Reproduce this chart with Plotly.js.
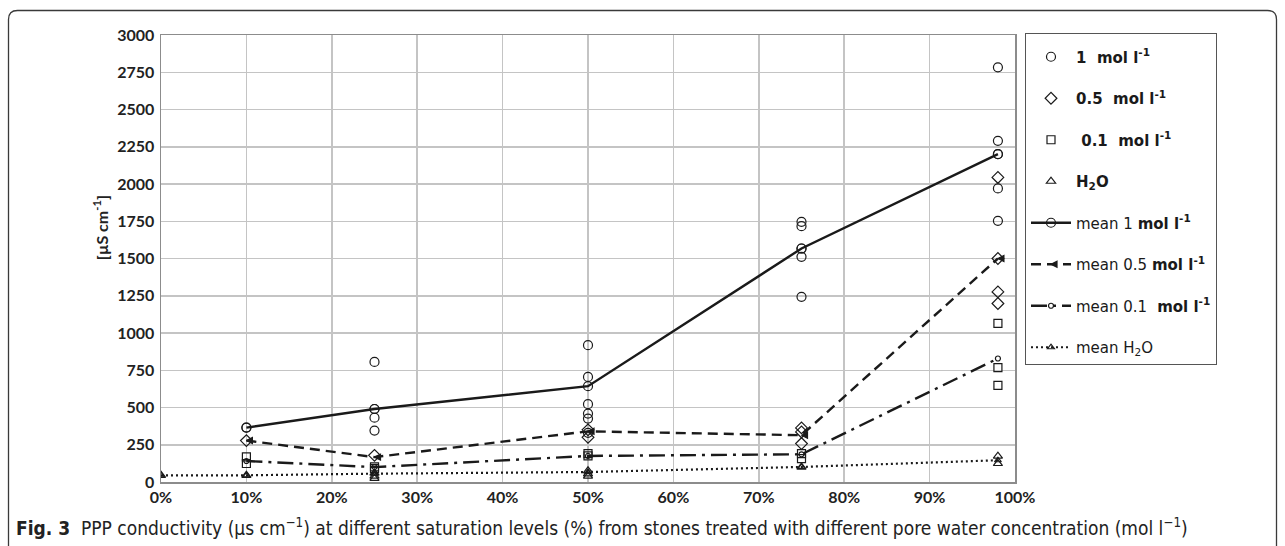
<!DOCTYPE html>
<html>
<head>
<meta charset="utf-8">
<script src="https://cdn.plot.ly/plotly-3.0.1.min.js"></script>
<style>
  html, body { margin: 0; padding: 0; background: #fff; }
  #chart { width: 1285px; height: 546px; }
</style>
</head>
<body>
<div id="chart"></div>
<script>
// ---- data (saturation level as fraction, conductivity in µS/cm) ----
const one_x   = [0.10, 0.25, 0.25, 0.25, 0.25, 0.50, 0.50, 0.50, 0.50, 0.50, 0.50, 0.75, 0.75, 0.75, 0.75, 0.75, 0.98, 0.98, 0.98, 0.98, 0.98];
const one_y   = [365, 806, 490, 432, 345, 918, 705, 522, 459, 426, 330, 1746, 1717, 1567, 1511, 1243, 2783, 2290, 2201, 1970, 1753];

const half_x  = [0.10, 0.25, 0.50, 0.50, 0.75, 0.75, 0.75, 0.98, 0.98, 0.98, 0.98];
const half_y  = [278, 179, 350, 300, 363, 336, 258, 2044, 1500, 1276, 1198];

const tenth_x = [0.10, 0.10, 0.25, 0.25, 0.50, 0.50, 0.75, 0.75, 0.98, 0.98, 0.98];
const tenth_y = [168, 124, 101, 90, 190, 175, 191, 157, 1064, 768, 649];

const h2o_x   = [0, 0.10, 0.25, 0.25, 0.25, 0.50, 0.50, 0.50, 0.75, 0.98, 0.98];
const h2o_y   = [45, 45, 25, 40, 60, 40, 55, 75, 100, 124, 173];

const mean_x      = [0.10, 0.25, 0.50, 0.75, 0.98];
const mean1_y     = [365, 490, 643, 1567, 2200];
const mean05_y    = [278, 167, 340, 314, 1500];
const mean01_y    = [141, 100, 175, 186, 829];
const meanH2O_x   = [0, 0.10, 0.25, 0.50, 0.75, 0.98];
const meanH2O_y   = [45, 45, 56, 67, 101, 146];

const xTicks = [0, 0.1, 0.2, 0.3, 0.4, 0.5, 0.6, 0.7, 0.8, 0.9, 1.0];
const yTicks = [0, 250, 500, 750, 1000, 1250, 1500, 1750, 2000, 2250, 2500, 2750, 3000];

const names = {
  one:   '<b>1  mol l<sup>-1</sup></b>',
  half:  '<b>0.5  mol l<sup>-1</sup></b>',
  tenth: '<b> 0.1  mol l<sup>-1</sup></b>',
  h2o:   '<b>H<sub>2</sub>O</b>',
  m1:    'mean 1 <b>mol l<sup>-1</sup></b>',
  m05:   'mean 0.5 <b>mol l<sup>-1</sup></b>',
  m01:   'mean 0.1 <b> mol l<sup>-1</sup></b>',
  mh:    'mean H<sub>2</sub>O'
};

// ---- layout geometry helpers ----
const W = 1285, H = 546;
const L = 161, R = 1015, T = 35, B = 481.7;
const px = v => (v - L) / (R - L);
const py = v => (B - v) / (B - T);

const ink = '#1a1a1a';
const mk = (symbol, size) => ({ symbol: symbol, size: size, color: ink, line: { color: ink, width: 1.2 } });

const traces = [
  { x: one_x, y: one_y, name: names.one, type: 'scatter', mode: 'markers', marker: mk('circle-open', 9), legendgroup: 'a' },
  { x: half_x, y: half_y, name: names.half, type: 'scatter', mode: 'markers', marker: mk('diamond-open', 9), legendgroup: 'b' },
  { x: tenth_x, y: tenth_y, name: names.tenth, type: 'scatter', mode: 'markers', marker: mk('square-open', 8), legendgroup: 'c' },
  { x: h2o_x, y: h2o_y, name: names.h2o, type: 'scatter', mode: 'markers', marker: mk('triangle-up-open', 8), legendgroup: 'd' },
  { x: mean_x, y: mean1_y, name: names.m1, type: 'scatter', mode: 'lines+markers',
    line: { color: ink, width: 2.4 }, marker: mk('circle-open', 9), legendgroup: 'e' },
  { x: mean_x, y: mean05_y, name: names.m05, type: 'scatter', mode: 'lines+markers',
    line: { color: ink, width: 2.4, dash: '10px,6px' }, marker: mk('arrow-left', 6), legendgroup: 'f' },
  { x: mean_x, y: mean01_y, name: names.m01, type: 'scatter', mode: 'lines+markers',
    line: { color: ink, width: 2.4, dash: '16px,6px,3px,6px' }, marker: mk('circle-open', 5), legendgroup: 'g' },
  { x: meanH2O_x, y: meanH2O_y, name: names.mh, type: 'scatter', mode: 'lines+markers',
    line: { color: ink, width: 2.2, dash: '2px,3px' }, marker: mk('triangle-up-open', 6), legendgroup: 'h' }
];

const fx0 = 8.5, fy0 = 10.5, fx1 = 1276.5, fy1 = 600, r = 9;
const framePath = 'M ' + px(fx0) + ' ' + py(fy1) +
  ' L ' + px(fx0) + ' ' + py(fy0 + r) +
  ' Q ' + px(fx0) + ' ' + py(fy0) + ' ' + px(fx0 + r) + ' ' + py(fy0) +
  ' L ' + px(fx1 - r) + ' ' + py(fy0) +
  ' Q ' + px(fx1) + ' ' + py(fy0) + ' ' + px(fx1) + ' ' + py(fy0 + r) +
  ' L ' + px(fx1) + ' ' + py(fy1);

const tickFont = { family: 'Lato, sans-serif', size: 16, weight: 'bold', color: '#222' };

const layout = {
  width: W, height: H,
  margin: { l: L, r: W - R, t: T, b: H - B, pad: 0 },
  paper_bgcolor: '#fff', plot_bgcolor: '#fff',
  showlegend: true,
  font: { family: 'Lato, "DejaVu Sans", sans-serif', color: ink },
  xaxis: {
    range: [0, 1], tickvals: xTicks, tickformat: '.0%',
    showgrid: true, gridcolor: '#c4c4c4', gridwidth: 1.5,
    showline: true, linecolor: '#8c8c8c', linewidth: 1.5, mirror: true,
    ticks: '', zeroline: false, tickfont: tickFont
  },
  yaxis: {
    range: [0, 3000], tickvals: yTicks,
    showgrid: true, gridcolor: '#c4c4c4', gridwidth: 1.5,
    showline: true, linecolor: '#8c8c8c', linewidth: 1.5, mirror: true,
    ticks: '', zeroline: false, ticklabelstandoff: 2, tickfont: tickFont
  },
  legend: {
    x: px(1025), y: py(33), xanchor: 'left', yanchor: 'top',
    bordercolor: '#555', borderwidth: 1, bgcolor: '#fff',
    font: { family: '"DejaVu Sans", sans-serif', size: 15, color: ink },
    title: { text: '&nbsp;', font: { size: 5 } },
    tracegroupgap: 19, itemwidth: 40, traceorder: 'grouped', maxheight: 520
  },
  shapes: [
    { type: 'path', xref: 'paper', yref: 'paper', path: framePath, line: { color: '#3a3a3a', width: 1.3 }, layer: 'above' }
  ],
  annotations: [
    { xref: 'paper', yref: 'paper', x: px(100), y: py(228), xanchor: 'center', yanchor: 'middle', showarrow: false,
      textangle: -90, text: '[µS cm<sup>-1</sup>]', font: tickFont },
    { xref: 'paper', yref: 'paper', x: px(14), y: py(527), xanchor: 'left', yanchor: 'middle', showarrow: false,
      text: '<b>Fig. 3</b>&nbsp;&nbsp;PPP conductivity (µs cm<sup>−1</sup>) at different saturation levels (%) from stones treated with different pore water concentration (mol l<sup>−1</sup>)',
      font: { family: '"Liberation Sans Narrow", "DejaVu Sans Condensed", sans-serif', size: 19, color: '#222' } }
  ]
};

Plotly.newPlot('chart', traces, layout, { displayModeBar: false, staticPlot: true });
</script>
</body>
</html>
